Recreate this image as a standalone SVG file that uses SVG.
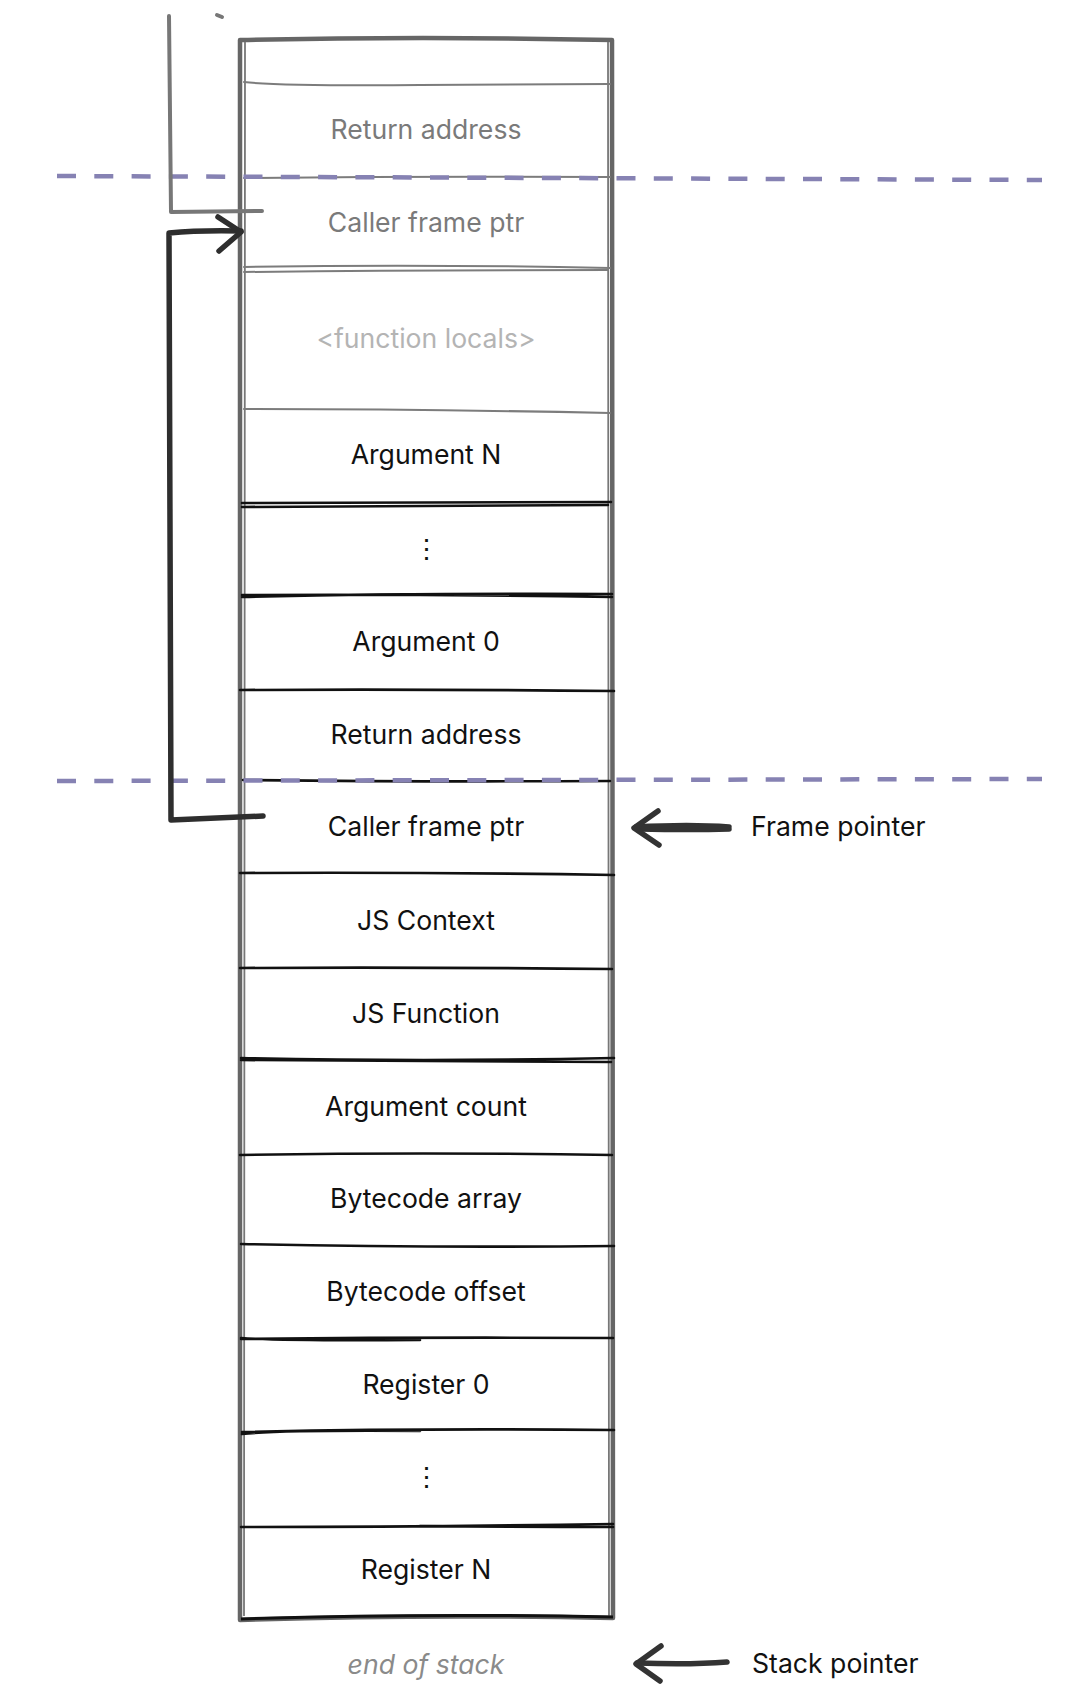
<svg xmlns="http://www.w3.org/2000/svg" width="1080" height="1704" viewBox="0 0 1080 1704">
<style>
  text { font-family: Inter, "Noto Sans", "Liberation Sans", sans-serif; font-size: 26.6px; text-anchor: middle; fill: #111; }
  .old { fill: #7a7a7a; }
  .faint { fill: #b4b4b4; }
  .end { fill: #8a8a8a; font-style: italic; }
  .lbl { text-anchor: start; }
  .gdiv { fill: none; stroke: #7c7c7c; stroke-width: 2; stroke-linecap: round; }
  .bdiv { fill: none; stroke: #111; stroke-width: 2.6; stroke-linecap: round; }
  .frame { fill: none; stroke: #666; stroke-width: 4.5; stroke-linejoin: round; }
  .frame2 { fill: none; stroke: #777; stroke-width: 1.8; }
  .dash { fill: none; stroke: #8682b3; stroke-width: 4.5; stroke-dasharray: 19 18.3; }
  .bracket-old { fill: none; stroke: #777; stroke-width: 4; stroke-linecap: round; stroke-linejoin: round; }
  .bracket { fill: none; stroke: #2e2e2e; stroke-width: 5.5; stroke-linecap: round; stroke-linejoin: round; }
  .ptr { fill: none; stroke: #333; stroke-width: 5.5; stroke-linecap: round; stroke-linejoin: round; }
</style>

<g id="stack-frame">
  <path class="frame" d="M240 40 Q420 36 612 40 L613 1618 Q420 1614 240 1620 Z"/>
  <path class="frame2" d="M245 42 L244 1616 M608 42 L609 1616"/>
  <path d="M241 1619 Q420 1613 613 1617" fill="none" stroke="#111" stroke-width="3"/>
</g>

<g id="dividers">
  <path class="gdiv" d="M244 82 Q280 86 420 85 T610 84"/>
  <path class="gdiv" d="M244 178 Q420 176 610 177"/>
  <path class="gdiv" d="M244 267 Q420 264 610 268 M244 272 Q420 270 608 270"/>
  <path class="gdiv" d="M244 409 Q420 409 610 413"/>
  <path class="bdiv" d="M242 503 Q420 503 611 502 M242 507 Q420 506 608 505"/>
  <path class="bdiv" d="M242 597 Q420 593 612 594 M242 595 Q420 594 612 597"/>
  <path class="bdiv" d="M240 690 Q420 689 614 691"/>
  <path class="bdiv" d="M243 780 Q420 782 610 781"/>
  <path class="bdiv" d="M240 873 Q420 872 614 875"/>
  <path class="bdiv" d="M240 968 Q420 967 612 969"/>
  <path class="bdiv" d="M241 1058 Q420 1062 614 1058 M241 1060 Q420 1061 611 1062"/>
  <path class="bdiv" d="M240 1155 Q420 1152 612 1155"/>
  <path class="bdiv" d="M241 1244 Q420 1248 614 1246"/>
  <path class="bdiv" d="M241 1339 Q420 1337 613 1338 M241 1338 Q280 1341 420 1340"/>
  <path class="bdiv" d="M242 1432 Q420 1428 614 1430 M242 1434 Q280 1430 420 1431"/>
  <path class="bdiv" d="M241 1527 Q420 1527 613 1524 M420 1526 Q520 1527 613 1527"/>
</g>

<g id="separators">
  <path class="dash" d="M57 176 L1042 180"/>
  <path class="dash" d="M57 781 L1042 779"/>
</g>

<g id="row-return-address-old"><text class="old" x="426" y="139">Return address</text></g>
<g id="row-caller-frame-old"><text class="old" x="426" y="232">Caller frame ptr</text></g>
<g id="row-function-locals"><text class="faint" x="426" y="348">&lt;function locals&gt;</text></g>
<g id="row-argument-n"><text x="426" y="464">Argument N</text></g>
<g id="row-arg-dots"><text x="426" y="558">⋮</text></g>
<g id="row-argument-0"><text x="426" y="651">Argument 0</text></g>
<g id="row-return-address"><text x="426" y="744">Return address</text></g>
<g id="row-caller-frame"><text x="426" y="836">Caller frame ptr</text></g>
<g id="row-js-context"><text x="426" y="930">JS Context</text></g>
<g id="row-js-function"><text x="426" y="1023">JS Function</text></g>
<g id="row-argument-count"><text x="426" y="1116">Argument count</text></g>
<g id="row-bytecode-array"><text x="426" y="1208">Bytecode array</text></g>
<g id="row-bytecode-offset"><text x="426" y="1301">Bytecode offset</text></g>
<g id="row-register-0"><text x="426" y="1394">Register 0</text></g>
<g id="row-reg-dots"><text x="426" y="1486">⋮</text></g>
<g id="row-register-n"><text x="426" y="1579">Register N</text></g>
<g id="end-of-stack"><text class="end" x="426" y="1674">end of stack</text></g>

<g id="label-frame-pointer"><text class="lbl" x="751" y="836">Frame pointer</text></g>
<g id="label-stack-pointer"><text class="lbl" x="752" y="1673">Stack pointer</text></g>

<g id="connectors">
  <path class="bracket-old" d="M169 16 L171 212 L262 211"/>
  <path class="bracket-old" d="M217 15 L222 17" stroke-width="2"/>
  <path class="bracket" d="M263 816 L171 820 L169 233 Q200 230 241 231"/>
  <path class="bracket" d="M218 217 L241 232 L219 251"/>
  <path class="ptr" d="M729 827 Q690 824 636 827 M729 829 Q690 830 640 829"/>
  <path class="ptr" d="M658 811 L634 828 L659 845"/>
  <path class="ptr" d="M727 1662 Q690 1665 637 1663"/>
  <path class="ptr" d="M661 1646 L636 1664 L660 1681"/>
</g>
</svg>
